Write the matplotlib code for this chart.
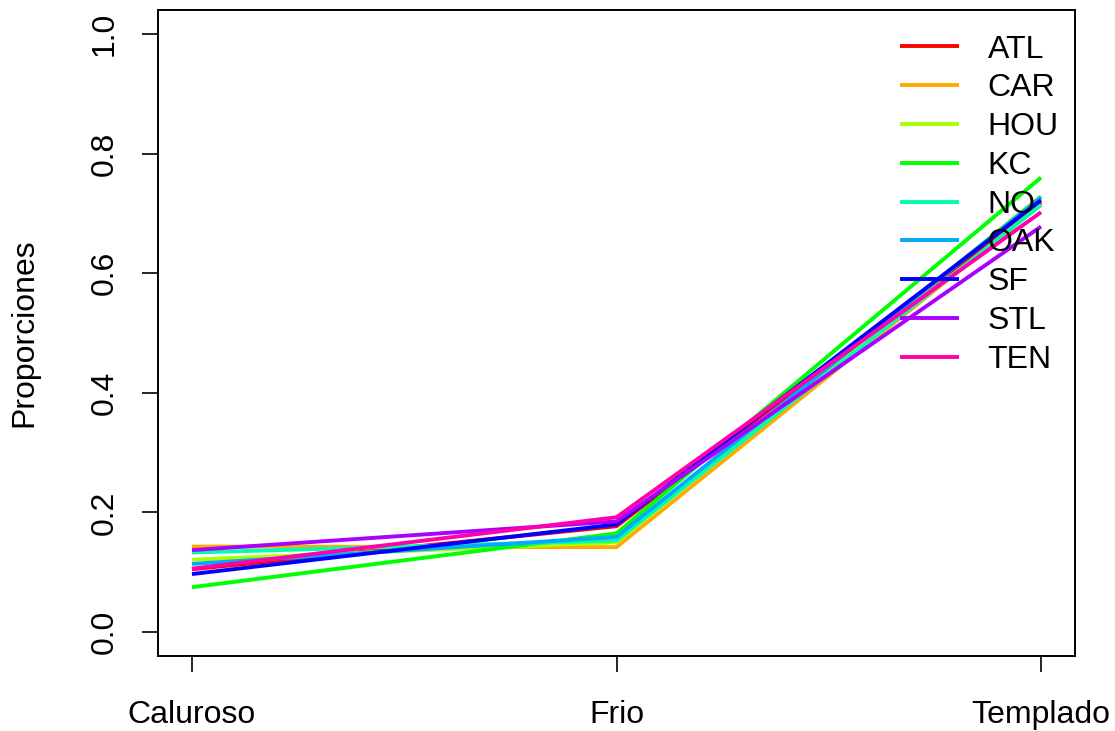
import numpy as np
import matplotlib
matplotlib.use("Agg")
import matplotlib.pyplot as plt

# temperature categories on the x axis
categorias = ["Caluroso", "Frio", "Templado"]

# proportions per team (Caluroso, Frio, Templado)
ATL = [0.105, 0.177, 0.718]
CAR = [0.143, 0.142, 0.715]
HOU = [0.121, 0.150, 0.729]
KC = [0.075, 0.165, 0.760]
NO = [0.133, 0.153, 0.714]
OAK = [0.114, 0.159, 0.727]
SF = [0.097, 0.180, 0.722]
STL = [0.137, 0.185, 0.678]
TEN = [0.106, 0.192, 0.702]

equipos = ["ATL", "CAR", "HOU", "KC", "NO", "OAK", "SF", "STL", "TEN"]
valores = [ATL, CAR, HOU, KC, NO, OAK, SF, STL, TEN]
# R rainbow(9)
colores = ["#FF0000", "#FFAA00", "#AAFF00", "#00FF00", "#00FFAA",
           "#00AAFF", "#0000FF", "#AA00FF", "#FF00AA"]

plt.rcParams['font.family'] = ['Liberation Sans', 'DejaVu Sans']
fs = 23

fig = plt.figure(figsize=(11.15, 7.31), dpi=100)
ax = fig.add_axes([158/1115, 1 - 656/731, (1075-158)/1115, (656-10)/731])

x = np.arange(len(categorias))
for eq, v, c in zip(equipos, valores, colores):
    ax.plot(x, v, color=c, lw=2.8, label=eq, solid_capstyle='butt')

ax.set_xlim(-0.08, 2.08)
ax.set_ylim(-0.04, 1.04)
ax.set_xticks(x)
ax.set_xticklabels(categorias, fontsize=fs)
ax.set_yticks([0.0, 0.2, 0.4, 0.6, 0.8, 1.0])
ax.set_yticklabels(["0.0", "0.2", "0.4", "0.6", "0.8", "1.0"], fontsize=fs,
                   rotation=90, va='center')
ax.tick_params(axis='x', length=11.5, width=1.2, pad=20)
ax.tick_params(axis='y', length=11.5, width=1.2, pad=16)
for s in ax.spines.values():
    s.set_linewidth(1.4)
ax.set_ylabel("Proporciones", fontsize=fs, labelpad=36)

ax.legend(loc='upper left', bbox_to_anchor=(0.809, 0.962), frameon=False,
          fontsize=fs, handlelength=1.85, handletextpad=0.9, labelspacing=0.275,
          borderpad=0, borderaxespad=0)

fig.savefig("out.png", dpi=100)
